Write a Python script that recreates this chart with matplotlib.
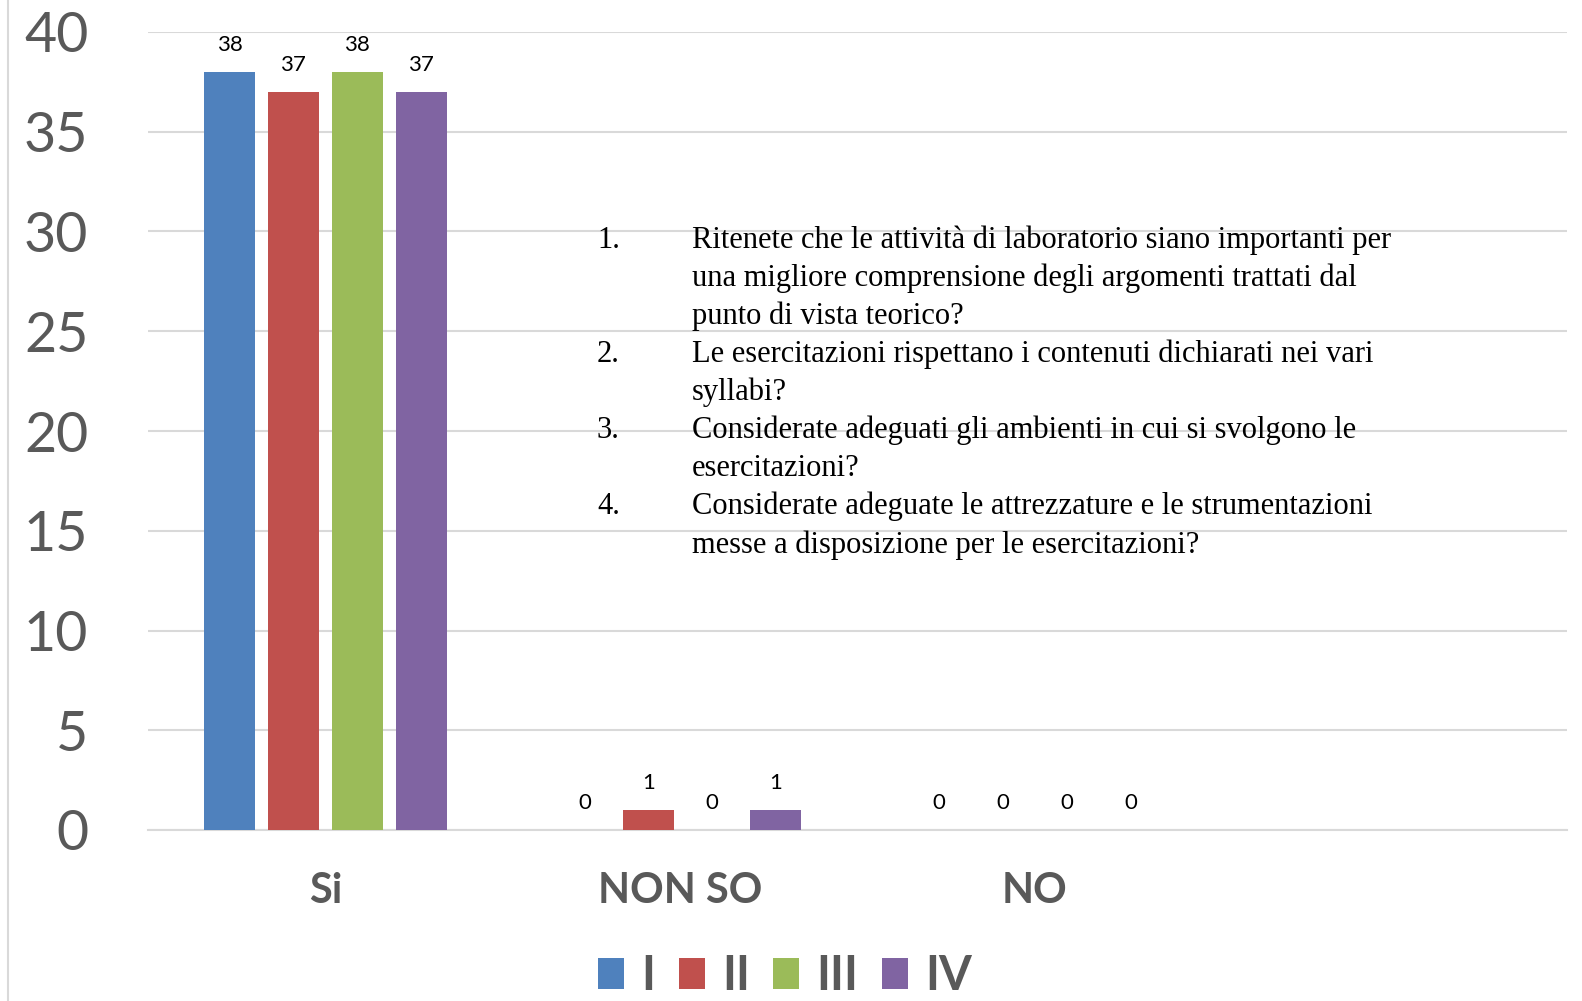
import matplotlib
matplotlib.use("Agg")
import matplotlib.pyplot as plt
import numpy as np
from matplotlib.lines import Line2D
from matplotlib.patches import Patch

categories = ["Si", "NON SO", "NO", ""]
series = ["I", "II", "III", "IV"]
values = {
    "I": [38, 0, 0, None],
    "II": [37, 1, 0, None],
    "III": [38, 0, 0, None],
    "IV": [37, 1, 0, None],
}
colors = ["#4F81BD", "#C0504D", "#9BBB59", "#8064A2"]

questions = [
    ["Ritenete che le attività di laboratorio siano importanti per",
     "una migliore comprensione degli argomenti trattati dal",
     "punto di vista teorico?"],
    ["Le esercitazioni rispettano i contenuti dichiarati nei vari",
     "syllabi?"],
    ["Considerate adeguati gli ambienti in cui si svolgono le",
     "esercitazioni?"],
    ["Considerate adeguate le attrezzature e le strumentazioni",
     "messe a disposizione per le esercitazioni?"],
]

W, H = 1582, 1001
fig = plt.figure(figsize=(W / 100, H / 100), dpi=100)
ax = fig.add_axes([148 / W, 1 - 830 / H, (1567 - 148) / W, (830 - 32) / H])

x = np.arange(len(categories))
step = 0.18
width = 0.144
for j, (name, col) in enumerate(zip(series, colors)):
    xs = [xi + (j - 1.5) * step for xi, v in zip(x, values[name]) if v is not None]
    vs = [v for v in values[name] if v is not None]
    ax.bar(xs, vs, width=width, color=col, zorder=3, label=name)
    for xb, v in zip(xs, vs):
        ax.annotate(str(v), (xb, v), xytext=(0, 19.5), textcoords="offset points",
                    ha="center", va="center", fontsize=16, family="Lato", color="#000000")

ax.set_xlim(-0.5, 3.5)
ax.set_ylim(0, 40)
ax.set_yticks(range(0, 41, 5))
ax.set_yticklabels([str(v) for v in range(0, 41, 5)], fontsize=40, family="Lato", color="#595959")
ax.set_xticks(x)
ax.set_xticklabels(categories, fontsize=30, family="Lato", fontweight="bold", color="#595959")
ax.tick_params(axis="y", length=0, pad=43)
ax.tick_params(axis="x", length=0, pad=30)
ax.grid(axis="y", color="#D9D9D9", linewidth=1.5, zorder=0)
for s in ["top", "right", "left"]:
    ax.spines[s].set_visible(False)
ax.spines["bottom"].set_color("#D9D9D9")
ax.spines["bottom"].set_linewidth(1.5)

# question text block
line_h = 38.1
row = 0
for qi, lines in enumerate(questions):
    fig.text(597 / W, 1 - (240 + row * line_h) / H, f"{qi + 1}.", fontsize=22,
             family="Liberation Serif", va="center", ha="left")
    for ln in lines:
        fig.text(692 / W, 1 - (240 + row * line_h) / H, ln, fontsize=22,
                 family="Liberation Serif", va="center", ha="left")
        row += 1

handles = [Patch(facecolor=c, edgecolor="none") for c in colors]
fig.legend(handles, series, loc="center", bbox_to_anchor=(785 / W, 1 - 976 / H),
           ncol=4, frameon=False, prop={"family": "Lato", "weight": "bold", "size": 34},
           handlelength=0.55, handleheight=0.65, handletextpad=0.36, columnspacing=0.5,
           labelcolor="#595959", borderpad=0.1)

fig.add_artist(Line2D([8 / W, 8 / W], [0, 1], color="#D9D9D9", linewidth=1.5))

fig.savefig("out.png", dpi=100)
